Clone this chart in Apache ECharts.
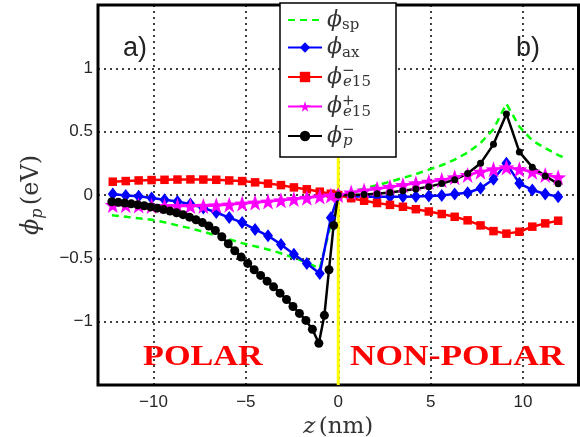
<!DOCTYPE html>
<html>
<head>
<meta charset="utf-8">
<script src="https://cdn.jsdelivr.net/npm/echarts@6/dist/echarts.min.js"></script>
<style>
  html, body { margin: 0; padding: 0; background: #fff; }
  #chart { width: 580px; height: 437px; }
</style>
</head>
<body>
<div id="chart"></div>
<script>
// z positions (nm) of the layers
const zMain = [-12.2, -11.5, -10.8, -10.1, -9.4, -8.7, -8.0, -7.3, -6.6, -5.9, -5.2, -4.5, -3.8, -3.1, -2.4, -1.7, -1.0, -0.4, 0,
  0.7, 1.4, 2.1, 2.8, 3.5, 4.2, 4.9, 5.6, 6.3, 7.0, 7.7, 8.4, 9.1, 9.8, 10.5, 11.2, 11.9]
const zBlack = [-12.25, -11.9, -11.55, -11.2, -10.85, -10.5, -10.15, -9.8, -9.45, -9.1, -8.75, -8.4, -8.05, -7.7, -7.35, -7.0,
  -6.65, -6.3, -5.95, -5.6, -5.25, -4.9, -4.55, -4.2, -3.85, -3.5, -3.15, -2.8, -2.45, -2.1, -1.75, -1.4, -1.05, -0.75, -0.5, -0.25, 0,
  0.7, 1.4, 2.1, 2.8, 3.5, 4.2, 4.9, 5.6, 6.3, 7.0, 7.7, 8.4, 9.1, 9.8, 10.5, 11.2, 11.9]
const zSp = [-12.25, -11.5, -10.8, -10.1, -9.4, -8.7, -8.0, -7.3, -6.6, -5.9, -5.2, -4.5, -3.8, -3.1, -2.4, -1.7, -1.0, 0,
  0.7, 1.4, 2.1, 2.8, 3.5, 4.2, 4.9, 5.6, 6.3, 7.0, 7.7, 8.4, 9.1, 9.8, 10.5, 11.2, 11.9, 12.3]

// potentials (eV)
const phiSp = [-0.16, -0.172, -0.184, -0.196, -0.215, -0.24, -0.263, -0.29, -0.32, -0.35, -0.38, -0.405, -0.43, -0.46, -0.495, -0.535, -0.58, 0,
  0.025, 0.05, 0.077, 0.105, 0.135, 0.165, 0.2, 0.235, 0.28, 0.335, 0.41, 0.52, 0.72, 0.54, 0.43, 0.37, 0.315, 0.29]
const phiAx = [0.008, -0.004, -0.01, -0.024, -0.038, -0.052, -0.072, -0.102, -0.138, -0.178, -0.218, -0.272, -0.322, -0.39, -0.468, -0.54, -0.62, -0.18, 0,
  -0.01, -0.013, -0.013, -0.013, -0.013, -0.012, -0.008, -0.003, 0.008, 0.018, 0.053, 0.124, 0.25, 0.092, 0.04, 0.008, -0.013]
const phiE15m = [0.105, 0.11, 0.115, 0.118, 0.12, 0.122, 0.123, 0.122, 0.12, 0.115, 0.11, 0.1, 0.09, 0.078, 0.06, 0.045, 0.026, 0.01, 0,
  -0.025, -0.045, -0.063, -0.078, -0.093, -0.112, -0.13, -0.15, -0.172, -0.2, -0.24, -0.285, -0.305, -0.29, -0.25, -0.224, -0.203]
const phiE15p = [-0.079, -0.08, -0.083, -0.086, -0.087, -0.087, -0.087, -0.086, -0.082, -0.076, -0.068, -0.06, -0.052, -0.042, -0.032, -0.022, -0.012, -0.004, 0,
  0.02, 0.035, 0.05, 0.064, 0.078, 0.092, 0.105, 0.118, 0.14, 0.158, 0.184, 0.203, 0.218, 0.203, 0.184, 0.158, 0.14]
const phiP = [-0.053, -0.058, -0.064, -0.07, -0.077, -0.085, -0.094, -0.104, -0.115, -0.127, -0.14, -0.155, -0.175, -0.195, -0.218, -0.245,
  -0.28, -0.33, -0.385, -0.44, -0.49, -0.54, -0.59, -0.635, -0.68, -0.725, -0.775, -0.825, -0.88, -0.935, -0.99, -1.06, -1.17, -0.95, -0.59, -0.24, 0,
  0.0, 0.004, 0.01, 0.02, 0.033, 0.048, 0.066, 0.09, 0.12, 0.17, 0.25, 0.40, 0.64, 0.34, 0.22, 0.15, 0.088]

const legendNames = ['sp', 'ax', 'e15m', 'e15p', 'pm']
const legendLabels = {
  sp: '{phi|ϕ}{sub|sp}',
  ax: '{phi|ϕ}{sub|ax}',
  e15m: '{phi|ϕ}{sup|−}{subi|e}{sub|15}',
  e15p: '{phi|ϕ}{sup|+}{subi|e}{sub|15}',
  pm: '{phi|ϕ}{sup|−}{subi|p}',
}

const zip = (xs, ys) => xs.map((x, i) => [x, ys[i]])
const minusFmt = (v) => String(v).replace('-', '−')

const serif = 'DejaVu Serif'
const textGray = '#333'
const richText = {
  phi: { fontFamily: serif, fontStyle: 'italic', fontSize: 22, color: textGray, lineHeight: 26 },
  sub: { fontFamily: serif, fontSize: 15, color: textGray, lineHeight: 12, verticalAlign: 'bottom' },
  subi: { fontFamily: serif, fontStyle: 'italic', fontSize: 15, color: textGray, lineHeight: 12, verticalAlign: 'bottom' },
  sup: { fontFamily: serif, fontSize: 15, color: textGray, lineHeight: 12, verticalAlign: 'top', width: 1 },
}

const starPath = 'path://M0,-10 L2.35,-3.24 L9.51,-3.09 L3.8,1.24 L5.88,8.09 L0,4 L-5.88,8.09 L-3.8,1.24 L-9.51,-3.09 L-2.35,-3.24 Z'

const chart = echarts.init(document.getElementById('chart'))

chart.setOption({
  animation: false,
  backgroundColor: '#fff',
  grid: {
    left: 98, right: 1.5, top: 5, bottom: 52,
    outerBoundsMode: 'none', containLabel: false,
    show: true, borderColor: '#000', borderWidth: 3, backgroundColor: 'transparent', z: 3,
  },
  legend: {
    data: legendNames.map((n) => (n === 'sp' ? { name: n, itemStyle: { color: 'transparent', opacity: 0 } } : n)),
    orient: 'vertical',
    left: 287,
    top: 9,
    itemWidth: 34,
    itemHeight: 13,
    itemGap: 3.5,
    padding: 0,
    selectedMode: false,
    z: 60,
    formatter: (name) => legendLabels[name],
    textStyle: { rich: richText },
  },
  xAxis: {
    type: 'value',
    min: -13,
    max: 13,
    axisLine: { show: false },
    axisTick: { show: false },
    splitLine: { lineStyle: { color: '#000', type: [2, 4], width: 1.5 } },
    axisLabel: {
      fontFamily: 'Liberation Sans', fontSize: 17, color: '#262626', margin: 9,
      formatter: (v) => (v % 5 === 0 ? minusFmt(v) : ''),
    },
    name: '{it|z} {rm|(nm)}',
    nameLocation: 'middle',
    nameGap: 27,
    nameTextStyle: {
      rich: {
        it: { fontFamily: serif, fontStyle: 'italic', fontSize: 23, color: textGray },
        rm: { fontFamily: serif, fontSize: 23, color: textGray },
      },
    },
  },
  yAxis: {
    type: 'value',
    min: -1.5,
    max: 1.5,
    axisLine: { show: false },
    axisTick: { show: false },
    splitLine: { lineStyle: { color: '#000', type: [2, 4], width: 1.5 } },
    axisLabel: {
      fontFamily: 'Liberation Sans', fontSize: 17, color: '#262626', margin: 5,
      formatter: (v) => (Math.abs(v) === 1.5 ? '' : minusFmt(v)),
    },
    name: '{phi|ϕ}{subi|p} {rm|(eV)}',
    nameLocation: 'middle',
    nameGap: 52,
    nameTextStyle: {
      rich: {
        phi: { fontFamily: serif, fontStyle: 'italic', fontSize: 24, color: textGray, lineHeight: 28 },
        subi: { fontFamily: serif, fontStyle: 'italic', fontSize: 16, color: textGray, lineHeight: 12, verticalAlign: 'bottom' },
        rm: { fontFamily: serif, fontSize: 24, color: textGray, lineHeight: 28 },
      },
    },
  },
  graphic: [
    {
      type: 'rect', z: 50, silent: true,
      shape: { x: 280, y: 3, width: 116, height: 154 },
      style: { fill: '#fff', stroke: '#000', lineWidth: 1.5 },
    },
    { type: 'text', z: 50, x: 123, y: 49, style: { text: 'a)', font: '27px "Liberation Sans"', fill: '#222', verticalAlign: 'middle' } },
    { type: 'text', z: 50, x: 516, y: 49, style: { text: 'b)', font: '27px "Liberation Sans"', fill: '#222', verticalAlign: 'middle' } },
    { type: 'text', z: 50, x: 143, y: 357, scaleX: 1.14, style: { text: 'POLAR', font: 'bold 30px "Liberation Serif"', fill: '#ff0000', verticalAlign: 'middle' } },
    { type: 'text', z: 50, x: 350, y: 357, scaleX: 1.18, style: { text: 'NON-POLAR', font: 'bold 30px "Liberation Serif"', fill: '#ff0000', verticalAlign: 'middle' } },
  ],
  series: [
    {
      name: 'interface',
      type: 'line',
      data: [[0, -1.5], [0, 1.5]],
      symbol: 'none',
      silent: true,
      lineStyle: { color: '#ffff00', width: 3 },
    },
    {
      name: 'sp',
      type: 'line',
      data: zip(zSp, phiSp),
      symbol: 'none',
      lineStyle: { color: '#00ff00', width: 2.5, type: [7, 5] },
      itemStyle: { color: '#00ff00' },
    },
    {
      name: 'ax',
      type: 'line',
      data: zip(zMain, phiAx),
      symbol: 'diamond',
      symbolSize: [10, 13],
      lineStyle: { color: '#0000ff', width: 2.5 },
      itemStyle: { color: '#0000ff' },
    },
    {
      name: 'e15m',
      type: 'line',
      data: zip(zMain, phiE15m),
      symbol: 'rect',
      symbolSize: 8.5,
      lineStyle: { color: '#ff0000', width: 2.5 },
      itemStyle: { color: '#ff0000' },
    },
    {
      name: 'e15p',
      type: 'line',
      data: zip(zMain, phiE15p),
      symbol: starPath,
      symbolSize: 16,
      lineStyle: { color: '#ff00ff', width: 2.5 },
      itemStyle: { color: '#ff00ff' },
    },
    {
      name: 'pm',
      type: 'line',
      data: zip(zBlack, phiP),
      symbol: 'circle',
      symbolSize: (v) => (v[0] < 0 ? 9 : 7),
      lineStyle: { color: '#000', width: 2.5 },
      itemStyle: { color: '#000' },
    },
  ],
})
</script>
</body>
</html>
